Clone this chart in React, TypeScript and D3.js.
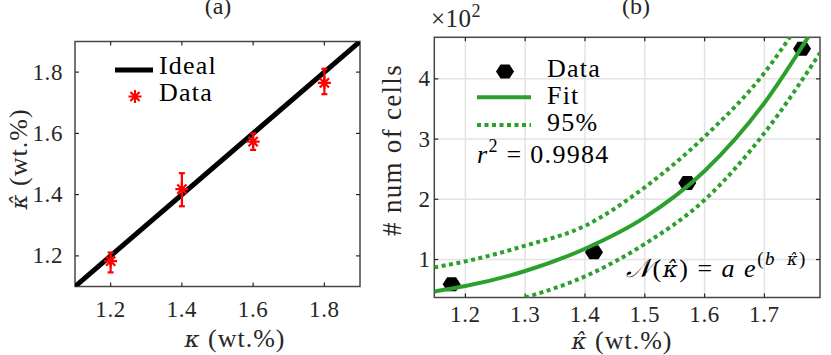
import React from 'react';
import * as d3 from 'd3';

// panel (a): estimated vs. true concentration
const kappaTrue = [1.2, 1.4, 1.6, 1.8];
const kappaEst = [1.183, 1.418, 1.573, 1.765];
const kappaLow = [1.146, 1.362, 1.546, 1.728];
const kappaHigh = [1.211, 1.47, 1.6, 1.811];
const idealLine = [1.1, 1.9];
const ticksA = [1.2, 1.4, 1.6, 1.8];

// panel (b): number of cells (x10^2) vs. estimated concentration
const cellKappa = [1.177, 1.415, 1.571, 1.763];
const cellCount = [0.59, 1.12, 2.27, 4.5];
const fitKappa = [1.148, 1.2, 1.3, 1.4, 1.5, 1.6, 1.7, 1.78];
const fitCount = [0.47, 0.56, 0.81, 1.18, 1.7, 2.47, 3.6, 4.8];
const upperKappa = [1.148, 1.2, 1.3, 1.4, 1.5, 1.6, 1.7, 1.76];
const upperCount = [0.87, 0.97, 1.23, 1.56, 2.2, 3.04, 4.1, 4.95];
const lowerKappa = [1.3, 1.4, 1.5, 1.6, 1.7, 1.793];
const lowerCount = [0.37, 0.72, 1.26, 1.99, 3.1, 4.43];
const ticksBX = [1.2, 1.3, 1.4, 1.5, 1.6, 1.7];
const ticksBY = [1, 2, 3, 4];

const SERIF = "'Liberation Serif', serif";
const HATFONT = { fontFamily: "'DejaVu Serif', serif", fontStyle: 'italic' as const };
const AXIS = '#262626';
const GREEN = '#2ca02c';

const xa = d3.scaleLinear().domain([1.1, 1.9]).range([75, 360]);
const ya = d3.scaleLinear().domain([1.1, 1.9]).range([286.5, 41.5]);
const xb = d3.scaleLinear().domain([1.148, 1.793]).range([434.3, 820]);
const yb = d3.scaleLinear().domain([0.37, 4.69]).range([297.5, 37.3]);

const hexagon = (cx: number, cy: number) => {
  const rx = 9, ry = 7;
  return `M${cx - rx},${cy}L${cx - rx / 2},${cy - ry}L${cx + rx / 2},${cy - ry}L${cx + rx},${cy}L${cx + rx / 2},${cy + ry}L${cx - rx / 2},${cy + ry}Z`;
};

const asterisk = (cx: number, cy: number, r: number) => {
  const d = r * Math.SQRT1_2;
  return `M${cx - r},${cy}H${cx + r}M${cx},${cy - r}V${cy + r}M${cx - d},${cy - d}L${cx + d},${cy + d}M${cx - d},${cy + d}L${cx + d},${cy - d}`;
};

const T = ({ children, ls = 0, ...p }: any) => (
  <text fontFamily={SERIF} style={{ fontFamily: SERIF, letterSpacing: ls }} fill={AXIS} {...p}>{children}</text>
);

const Hat = ({ size }: { size: number }) => (
  <tspan style={HATFONT} fontSize={size}>κ̂</tspan>
);

const Frame = ({ x, y, xt, yt, grid }: any) => {
  const [x0, x1] = x.range();
  const [y0, y1] = y.range();
  const tl = 4;
  return (
    <g>
      {grid && xt.map((t: number) => (
        <line key={'gx' + t} x1={x(t)} x2={x(t)} y1={y0} y2={y1} stroke="#e3e3e3" strokeWidth={1.5} />
      ))}
      {grid && yt.map((t: number) => (
        <line key={'gy' + t} x1={x0} x2={x1} y1={y(t)} y2={y(t)} stroke="#e3e3e3" strokeWidth={1.5} />
      ))}
      {xt.map((t: number) => (
        <g key={'tx' + t}>
          <line x1={x(t)} x2={x(t)} y1={y0} y2={y0 - tl} stroke={AXIS} strokeWidth={1.2} />
          <line x1={x(t)} x2={x(t)} y1={y1} y2={y1 + tl} stroke={AXIS} strokeWidth={1.2} />
        </g>
      ))}
      {yt.map((t: number) => (
        <g key={'ty' + t}>
          <line x1={x0} x2={x0 + tl} y1={y(t)} y2={y(t)} stroke={AXIS} strokeWidth={1.2} />
          <line x1={x1} x2={x1 - tl} y1={y(t)} y2={y(t)} stroke={AXIS} strokeWidth={1.2} />
        </g>
      ))}
      <rect x={x0} y={y1} width={x1 - x0} height={y0 - y1} fill="none" stroke={AXIS} strokeWidth={1.5} opacity={0.85} />
    </g>
  );
};

export default function App() {
  const lineB = (ks: number[], vs: number[]) =>
    d3.line<number>().x((k) => xb(k)).y((_, i) => yb(vs[i])).curve(d3.curveMonotoneX)(ks) || '';

  return (
    <svg width={831} height={355} style={{ position: 'absolute', left: 0, top: 0, background: '#fff' }}>
      <defs>
        <clipPath id="clipA"><rect x={75} y={41.5} width={285} height={245} /></clipPath>
        <clipPath id="clipB"><rect x={434.3} y={37.3} width={385.7} height={260.2} /></clipPath>
      </defs>

      {/* ---------- panel (a) ---------- */}
      <T x={218} y={14} textAnchor="middle" fontSize={24}>(a)</T>
      <Frame x={xa} y={ya} xt={ticksA} yt={ticksA} grid={false} />
      {ticksA.map((t) => (
        <T key={'xa' + t} x={xa(t)} y={316.5} textAnchor="middle" fontSize={23} ls={0.6}>{t.toFixed(1)}</T>
      ))}
      {ticksA.map((t) => (
        <T key={'ya' + t} x={63} y={ya(t) + 7.5} textAnchor="end" fontSize={23} ls={0.6}>{t.toFixed(1)}</T>
      ))}
      <g clipPath="url(#clipA)">
        <line x1={xa(idealLine[0])} y1={ya(idealLine[0])} x2={xa(idealLine[1])} y2={ya(idealLine[1])}
          stroke="#000" strokeWidth={5} />
      </g>
      {kappaTrue.map((k, i) => (
        <g key={'d' + i} stroke="#ff0000" strokeWidth={2.2} fill="none">
          <line x1={xa(k)} x2={xa(k)} y1={ya(kappaLow[i])} y2={ya(kappaHigh[i])} />
          <line x1={xa(k) - 3} x2={xa(k) + 3} y1={ya(kappaLow[i])} y2={ya(kappaLow[i])} />
          <line x1={xa(k) - 3} x2={xa(k) + 3} y1={ya(kappaHigh[i])} y2={ya(kappaHigh[i])} />
          <path d={asterisk(xa(k), ya(kappaEst[i]), 6.5)} />
        </g>
      ))}
      {/* legend (a) */}
      <line x1={115} x2={153} y1={70} y2={70} stroke="#000" strokeWidth={5} />
      <T x={159} y={74} fontSize={26} ls={1.2} fill="#000">Ideal</T>
      <path d={asterisk(135, 96.5, 6.5)} stroke="#ff0000" strokeWidth={2.2} fill="none" />
      <T x={159} y={100.5} fontSize={26} ls={1.2} fill="#000">Data</T>
      <T x={235} y={347} textAnchor="middle" fontSize={26} ls={1}>
        <tspan style={HATFONT} fontSize={23}>κ</tspan> (wt.%)
      </T>
      <T transform="translate(27,159) rotate(-90)" textAnchor="middle" fontSize={26} ls={1}>
        <Hat size={23} /> (wt.%)
      </T>

      {/* ---------- panel (b) ---------- */}
      <T x={636} y={14} textAnchor="middle" fontSize={24}>(b)</T>
      <Frame x={xb} y={yb} xt={ticksBX} yt={ticksBY} grid={true} />
      {ticksBX.map((t) => (
        <T key={'xb' + t} x={xb(t)} y={321.5} textAnchor="middle" fontSize={23} ls={0.6}>{t.toFixed(1)}</T>
      ))}
      {ticksBY.map((t) => (
        <T key={'yb' + t} x={430} y={yb(t) + 7.5} textAnchor="end" fontSize={23}>{t}</T>
      ))}
      <T x={431} y={27} fontSize={25} ls={0.5}>×10<tspan dy={-10} fontSize={18}>2</tspan></T>
      <g clipPath="url(#clipB)" fill="none" strokeWidth={4}>
        <path d={lineB(upperKappa, upperCount)} stroke={GREEN} strokeDasharray="4 3.5" />
        <path d={lineB(lowerKappa, lowerCount)} stroke={GREEN} strokeDasharray="4 3.5" />
        {cellKappa.map((k, i) => (
          <path key={'h' + i} d={hexagon(xb(k), yb(cellCount[i]))} fill="#000" stroke="none" />
        ))}
        <path d={lineB(fitKappa, fitCount)} stroke={GREEN} />
      </g>
      {/* legend (b) */}
      <path d={hexagon(505, 71.5)} fill="#000" />
      <T x={547} y={76.5} fontSize={26} ls={1.2} fill="#000">Data</T>
      <line x1={477} x2={531} y1={97.3} y2={97.3} stroke={GREEN} strokeWidth={4} />
      <T x={547} y={104.3} fontSize={26} ls={1.2} fill="#000">Fit</T>
      <line x1={477} x2={531} y1={125} y2={125} stroke={GREEN} strokeWidth={4} strokeDasharray="4 3.5" />
      <T x={547} y={131} fontSize={26} ls={1.2} fill="#000">95%</T>
      <T x={477} y={163.3} fontSize={26} ls={1.3} fill="#000">
        <tspan fontStyle="italic">r</tspan><tspan dy={-11} fontSize={18}>2</tspan><tspan dy={11}> = 0.9984</tspan>
      </T>
      <T x={626} y={277} fontSize={26} ls={1.5} fill="#000">
        <tspan fontStyle="italic">𝒩</tspan>(<Hat size={23} />) = <tspan fontStyle="italic">a e</tspan>
        <tspan dy={-12} fontSize={19}>(<tspan fontStyle="italic">b</tspan>{'\u2002'}<Hat size={16} />)</tspan>
      </T>
      <T x={622} y={349} textAnchor="middle" fontSize={26} ls={1}>
        <Hat size={23} /> (wt.%)
      </T>
      <T transform="translate(401,150) rotate(-90)" textAnchor="middle" fontSize={27} ls={1.3}># num of cells</T>
    </svg>
  );
}
